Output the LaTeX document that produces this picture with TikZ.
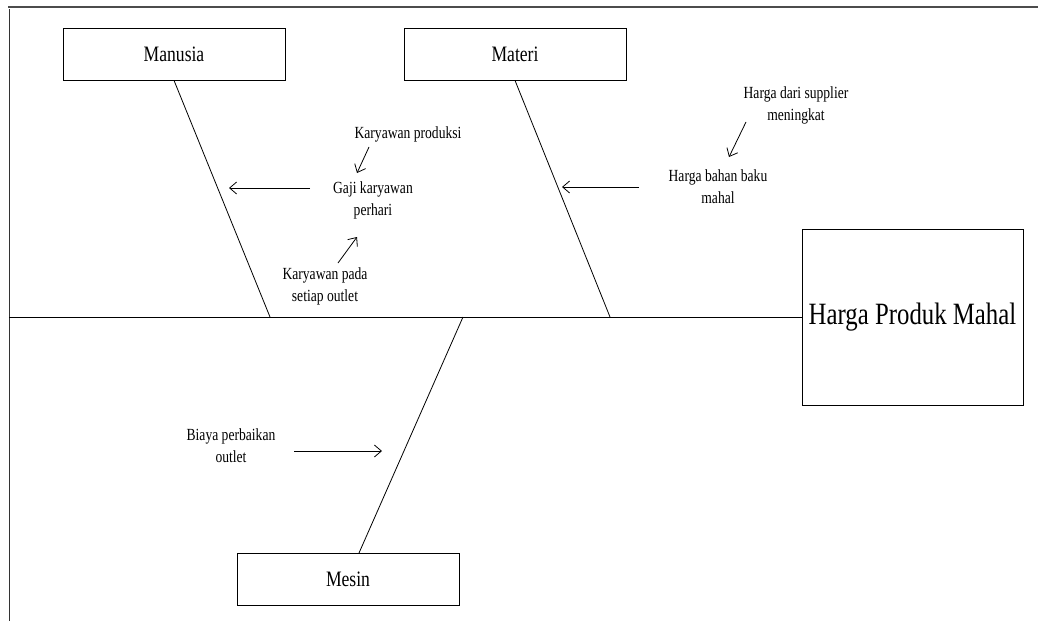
\documentclass[tikz,border=0pt]{standalone}
\usepackage{fontspec}
\setmainfont[FakeStretch=0.8]{Liberation Serif}
\usetikzlibrary{positioning,arrows.meta}

\begin{document}
\begin{tikzpicture}[x=1pt, y=-1pt, box/.style={rectangle, draw, line width=.8pt, minimum width=222pt, minimum height=52pt, inner sep=0pt, font=\fontsize{22}{26}\selectfont}, note/.style={align=center, inner sep=0pt, font=\fontsize{17}{22}\selectfont}, bone/.style={line width=.8pt}, arr/.style={line width=.8pt, -{Straight Barb[length=7pt, width=12pt]}}]
\useasboundingbox (0,0) rectangle (1038,621);
\draw[gray!60!black, line width=1.5pt] (8,7) -- (1038,7);
\draw[gray!40!black, line width=1pt] (9,9) -- (9,621);

% kategori
\node[box] (manusia) at (174,54) {Manusia};
\node[box] (materi) at (515,54) {Materi};
\node[box] (mesin) at (348,579) {Mesin};
\node[box, minimum width=221pt, minimum height=176pt, font=\fontsize{31}{36}\selectfont] (akibat) at (912.5,317) {Harga Produk Mahal};

% tulang utama
\coordinate (ekor) at (9,317);
\coordinate (manusiaend) at (270,317);
\coordinate (materiend) at (610,317);
\coordinate (mesinend) at (463,317);
\coordinate (mesintop) at (359,553);
\draw[bone] (ekor) -- (akibat.west);
\draw[bone] (manusia.south) -- (manusiaend);
\draw[bone] (materi.south) -- (materiend);
\draw[bone] (mesintop) -- (mesinend);

% penyebab
\node[note] (kprod) at (408,134) {Karyawan produksi};
\node[note] (gaji) at (373,200) {Gaji karyawan\\perhari};
\node[note] (kpada) at (325,286) {Karyawan pada\\setiap outlet};
\node[note] (supplier) at (796,105) {Harga dari supplier\\meningkat};
\node[note] (bahan) at (718,187) {Harga bahan baku\\mahal};
\node[note] (biaya) at (231,446) {Biaya perbaikan\\outlet};

\coordinate (gajitail) at (310,188);
\coordinate (gajihead) at (229,188);
\coordinate (kprodtail) at (369,147);
\coordinate (kprodhead) at (357,173);
\coordinate (kpadatail) at (338,263);
\coordinate (kpadahead) at (357,237);
\coordinate (bahantail) at (639,187);
\coordinate (bahanhead) at (562,187);
\coordinate (suppliertail) at (746,122);
\coordinate (supplierhead) at (729,157);
\coordinate (biayatail) at (294,451);
\coordinate (biayahead) at (382,451);

\draw[arr] (gajitail) -- (gajihead);
\draw[arr] (kprodtail) -- (kprodhead);
\draw[arr] (kpadatail) -- (kpadahead);
\draw[arr] (bahantail) -- (bahanhead);
\draw[arr] (suppliertail) -- (supplierhead);
\draw[arr] (biayatail) -- (biayahead);
\end{tikzpicture}
\end{document}
